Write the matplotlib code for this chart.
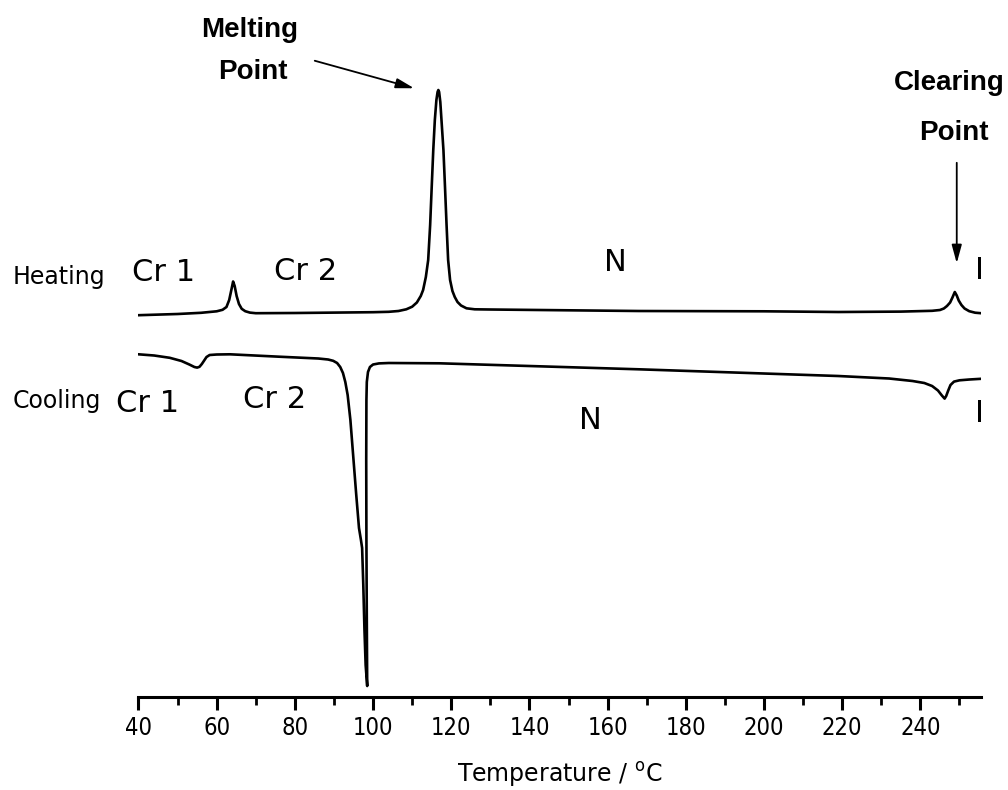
import numpy as np
import matplotlib
matplotlib.use('Agg')
import matplotlib.pyplot as plt
from matplotlib.ticker import MultipleLocator

# DSC traces (signal in arbitrary units, endo down)
heat_T = [40, 50, 56, 60, 61.5, 62.5, 63.2, 63.8, 64.2, 64.6, 65.1, 65.7, 66.4,
          67.3, 68.5, 70, 80, 90, 100, 104, 106.5, 108.5, 110, 111.2, 112.2, 112.8,
          113.5, 114.1, 114.6, 115, 115.4, 115.8, 116.2, 116.5, 116.7, 116.9, 117.2,
          117.5, 118, 118.4, 118.8, 119.2, 119.7, 120.3, 120.9, 121.6, 122.5, 123.9,
          126, 130, 150, 168, 200, 219, 235, 243, 245, 246, 246.8, 247.6, 248.2,
          248.8, 249.3, 249.8, 250.5, 251.3, 252.5, 254, 255.5]
heat_sig = [315.2, 314, 312.8, 311.3, 309.8, 307, 300, 289, 281.5, 286, 296, 304,
            308.8, 311.2, 312.6, 313.2, 313, 312.6, 312.2, 311.8, 311, 309.3, 306.7,
            302.5, 296, 290, 277, 260, 225, 187, 150, 120, 100, 92, 90, 92, 102, 120,
            150, 187, 225, 260, 280, 291, 297, 302, 305.5, 308.3, 309.3, 309.5, 310.3,
            311, 311.3, 312, 311.6, 310.8, 310, 308.5, 306, 302.5, 297.5, 292, 295.5,
            300.5, 305, 308.5, 311.2, 312.7, 313.2]

cool_T = [40, 44, 48, 51, 53, 54.3, 55, 55.6, 56.2, 56.8, 57.4, 58.2, 60, 63.4, 76,
          86, 88.5, 89.8, 90.8, 91.6, 92.3, 92.9, 93.5, 94.2, 94.9, 95.7, 96.4, 96.9,
          97.2, 97.5, 97.8, 98.1, 98.5, 98.4, 98.3, 98.25, 98.3, 98.4, 98.7, 99.2,
          100, 101.5, 104, 117, 168, 219, 232, 238, 241, 243, 244.5, 245.5, 246.2,
          246.6, 247.1, 247.7, 248.6, 250, 252.5, 255.5]
cool_sig = [354.3, 355.5, 357.8, 361, 364.5, 367, 367.6, 366.8, 364, 360.5, 357, 355,
            354.5, 354.3, 356.7, 358.5, 359.5, 360.8, 363, 367, 373, 382, 395, 420,
            455, 495, 528, 540, 548, 585, 630, 665, 686, 620, 540, 460, 400, 382, 372,
            367, 364.5, 363.4, 363, 363.3, 369.3, 376, 378.5, 381, 383, 386, 390.5,
            395.5, 398.6, 396, 390.7, 385, 381.6, 380.3, 379.5, 378.8]

xticks = [40, 60, 80, 100, 120, 140, 160, 180, 200, 220, 240]

fig = plt.figure(figsize=(10.08, 7.9), dpi=100)
ax = fig.add_axes([0.1374, 0.1172, 0.8358, 0.8828])

ax.plot(heat_T, heat_sig, c='k', lw=1.9)
ax.plot(cool_T, cool_sig, c='k', lw=1.9)

ax.set_xlim(40, 255.5)
ax.set_ylim(697.4, 0)

for s in ['left', 'top', 'right']:
    ax.spines[s].set_visible(False)
ax.spines['bottom'].set_linewidth(2.2)
ax.set_yticks([])
ax.set_xticks(xticks)
ax.xaxis.set_minor_locator(MultipleLocator(10))
ax.tick_params(axis='x', which='major', length=9.5, width=2.2, direction='out',
               labelsize=17, pad=4)
ax.tick_params(axis='x', which='minor', length=5.5, width=2.0, direction='out')
for lab in ax.get_xticklabels():
    lab.set_fontstretch('condensed')
ax.set_xlabel('Temperature / $^{\\mathregular{o}}$C', fontsize=17, labelpad=14)

# phase labels
lab_kw = dict(fontsize=22, ha='center', va='center', family='DejaVu Sans')
ax.text(46.3, 272, 'Cr 1', **lab_kw)
ax.text(82.8, 271, 'Cr 2', **lab_kw)
ax.text(161.9, 262, 'N', **lab_kw)
ax.text(255.2, 270, 'I', **lab_kw)
ax.text(42.2, 403, 'Cr 1', **lab_kw)
ax.text(74.7, 399, 'Cr 2', **lab_kw)
ax.text(155.5, 420, 'N', **lab_kw)
ax.text(255.0, 413, 'I', **lab_kw)

ax.text(7.9, 277, 'Heating', fontsize=17, ha='left', va='center')
ax.text(7.9, 401, 'Cooling', fontsize=17, ha='left', va='center')

# annotations
bold_kw = dict(fontsize=20, ha='center', va='center', fontweight='bold',
               family='Liberation Sans')
ax.text(68.5, 30, 'Melting', **bold_kw)
ax.text(69.3, 72, 'Point', **bold_kw)
ax.annotate('', xy=(111.2, 89), xytext=(84.4, 60),
            arrowprops=dict(arrowstyle='-|>,head_length=1.1,head_width=0.3',
                            color='k', lw=1.3))
ax.text(247.5, 83, 'Clearing', **bold_kw)
ax.text(248.6, 133, 'Point', **bold_kw)
ax.annotate('', xy=(249.3, 266), xytext=(249.3, 160),
            arrowprops=dict(arrowstyle='-|>,head_length=1.1,head_width=0.3',
                            color='k', lw=1.3))

fig.savefig('out.png', dpi=100)
